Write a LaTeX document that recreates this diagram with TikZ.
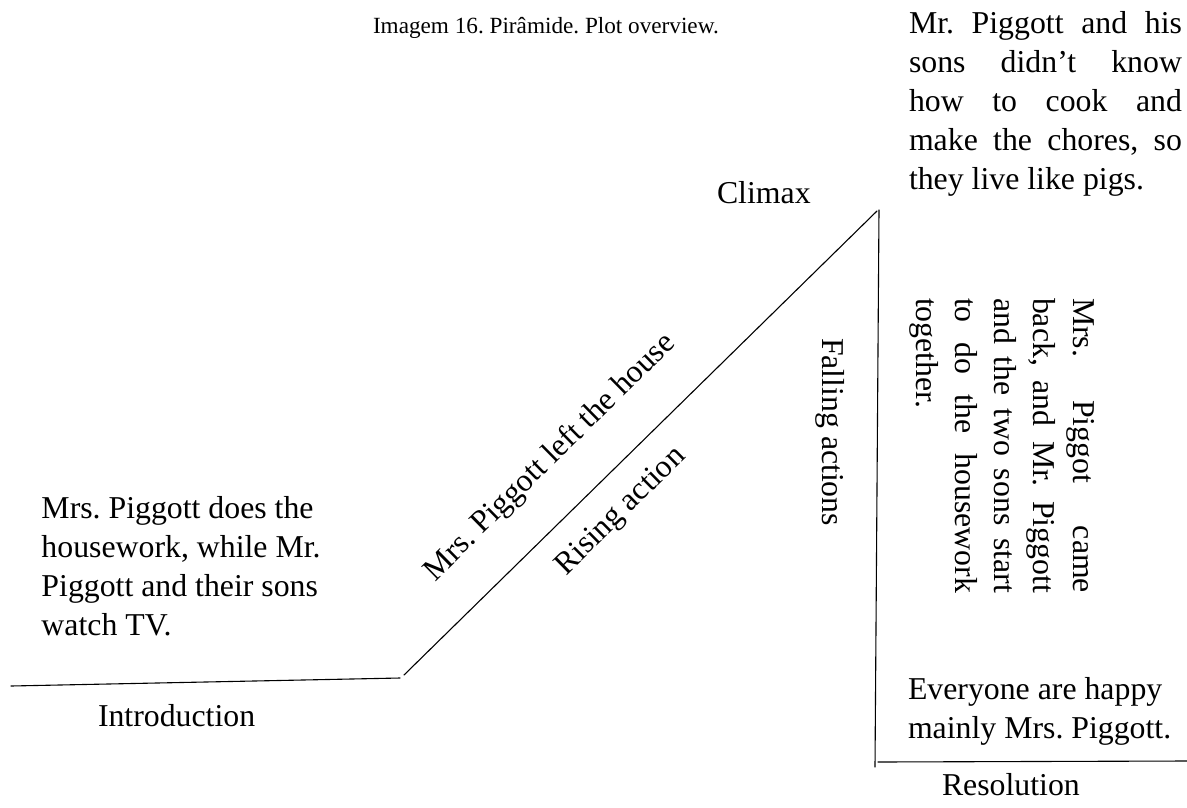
\documentclass[tikz,border=0pt]{standalone}
\usepackage{fontspec}
\setmainfont{Liberation Serif}
\frenchspacing
\newcommand\plotfont{\fontsize{31.8}{39.2}\selectfont}
\newcommand\capfont{\fontsize{23.2}{28}\selectfont}
\newcommand\jrow[2]{\hbox to #1{#2}}
\begin{document}
\begin{tikzpicture}[x=1pt,y=-1pt,
  txt/.style={inner sep=0pt, outer sep=0pt, anchor=base west, font=\plotfont},
  plotline/.style={line width=1.1pt, line cap=round}]
\useasboundingbox (0,0) rectangle (1187,807);

% pyramid coordinates
\coordinate (introL) at (11,686);
\coordinate (introR) at (400,678);
\coordinate (riseL) at (404,675);
\coordinate (riseT) at (877,211);
\coordinate (fallT) at (879,210);
\coordinate (fallB) at (875,767);
\coordinate (resL) at (878,762);
\coordinate (resR) at (1187,761);

\draw[plotline] (introL) -- (introR);
\draw[plotline] (riseL) -- (riseT);
\draw[plotline] (fallT) -- (fallB);
\draw[plotline] (resL) -- (resR);

% caption
\node[txt, font=\capfont] (cap) at (373,33) {Imagem 16. Pirâmide. Plot overview.};

% climax text
\node[txt] (climaxtxt) at (909,33) {\vtop{%
  \jrow{273pt}{Mr. Piggott and his}
  \jrow{273pt}{sons didn’t know}
  \jrow{273pt}{how to cook and}
  \jrow{273pt}{make the chores, so}
  \hbox{they live like pigs.}}};

\node[txt] (climax) at (717,203) {Climax};

% introduction text
\node[txt] (introtxt) at (41.5,518) {\vtop{%
  \hbox{Mrs. Piggott does the}
  \hbox{housework, while Mr.}
  \hbox{Piggott and their sons}
  \hbox{watch TV.}}};

\node[txt] (intro) at (98,726) {Introduction};

% rising action
\node[txt, rotate=44.5] (risetxt) at (435,582) {Mrs. Piggott left the house};
\node[txt, rotate=44.5] (rise) at (566,576) {Rising action};

% falling actions
\node[txt, rotate=-90] (fall) at (822,338) {Falling actions};

\node[txt, rotate=-90] (falltxt) at (1073,298) {\vtop{%
  \jrow{295pt}{Mrs. Piggot came}
  \jrow{295pt}{back, and Mr. Piggott}
  \jrow{295pt}{and the two sons start}
  \jrow{295pt}{to do the housework}
  \hbox{together.}}};

% resolution
\node[txt] (restxt) at (908,699) {\vtop{%
  \hbox{Everyone are happy}
  \hbox{mainly Mrs. Piggott.}}};

\node[txt] (res) at (942,795) {Resolution};
\end{tikzpicture}
\end{document}
